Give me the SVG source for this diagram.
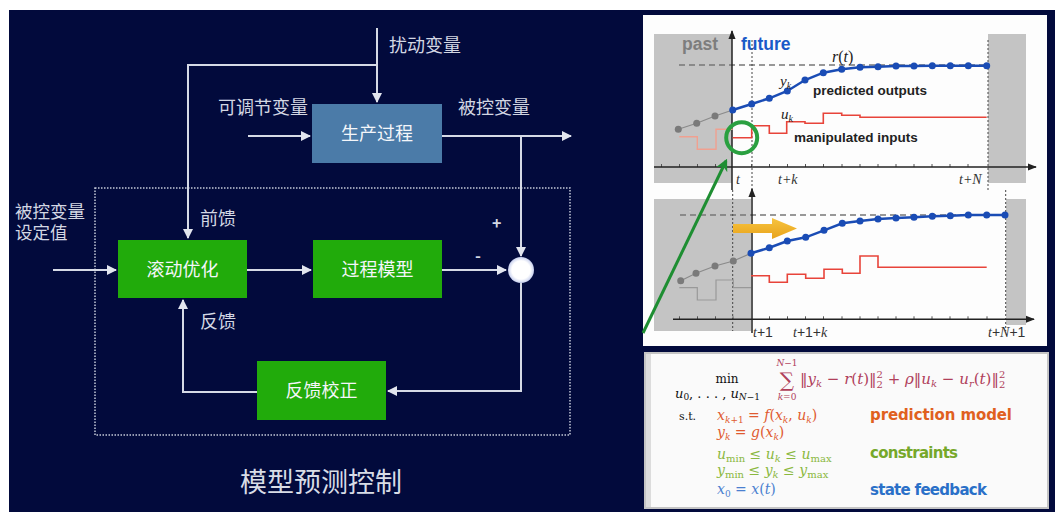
<svg xmlns="http://www.w3.org/2000/svg" width="1055" height="513" viewBox="0 0 1055 513">
<defs>
<style>
.lbl{font-family:"Noto Sans CJK SC","Liberation Sans",sans-serif;font-size:18px;fill:#d3d7e3}
.btx{font-family:"Noto Sans CJK SC","Liberation Sans",sans-serif;font-size:18px;fill:#f4f6fa;text-anchor:middle}
.wire{fill:none;stroke:#d6dae6;stroke-width:2}
.green{fill:#21ab0b}
.ax{fill:none;stroke:#222;stroke-width:1.5}
.tick{fill:none;stroke:#555;stroke-width:1}
.dot{fill:none;stroke:#444;stroke-width:1;stroke-dasharray:2 2}
.ref{fill:none;stroke:#777;stroke-width:1.5;stroke-dasharray:6 4}
.blue{fill:none;stroke:#1a4cb5;stroke-width:2.5}
.bdot{fill:#1a4cb5}
.gline{fill:none;stroke:#8a8a8a;stroke-width:1.2}
.gdot{fill:#7a7a7a}
.red{fill:none;stroke:#e8443a;stroke-width:1.6}
.math{font-family:"Liberation Serif",serif;font-style:italic;fill:#222}
.tk{font-family:"Liberation Serif",serif;font-style:italic;font-size:14px;fill:#333}
.lab{font-family:"Liberation Sans",sans-serif;font-weight:bold;font-size:13.5px;fill:#222}
.f{font-family:"DejaVu Serif",serif;font-size:14px}
.hand{font-family:"DejaVu Sans",sans-serif;font-size:15px;font-weight:bold}
</style>
<marker id="ah" viewBox="0 0 10 10" refX="9" refY="5" markerWidth="5" markerHeight="5" orient="auto-start-reverse" markerUnits="strokeWidth">
<path d="M0,0 L10,5 L0,10 z" fill="#e2e5ee"/>
</marker>
<marker id="axh" viewBox="0 0 10 10" refX="9" refY="5" markerWidth="6" markerHeight="6" orient="auto" markerUnits="strokeWidth">
<path d="M0,1 L10,5 L0,9 z" fill="#222"/>
</marker>
<marker id="gh" viewBox="0 0 10 10" refX="8" refY="5" markerWidth="4" markerHeight="4" orient="auto" markerUnits="strokeWidth">
<path d="M0,0 L10,5 L0,10 L3,5 z" fill="#1e8e32"/>
</marker>
<radialGradient id="glow" cx="0.5" cy="0.5" r="0.5">
<stop offset="0.7" stop-color="#ffffff"/>
<stop offset="1" stop-color="#c8d0ee"/>
</radialGradient>
<linearGradient id="yel" x1="0" y1="0" x2="0" y2="1">
<stop offset="0" stop-color="#f7c440"/>
<stop offset="1" stop-color="#e8a21a"/>
</linearGradient>
</defs>

<rect x="0" y="0" width="1055" height="513" fill="#ffffff"/>
<rect x="9" y="10" width="1046" height="502" fill="#020a3c"/>

<!-- Left diagram -->
<rect x="95" y="188" width="475" height="247" fill="none" stroke="#c4c9d8" stroke-width="1.5" stroke-dasharray="1.5 1.5"/>

<g id="connectors">
<path class="wire" d="M377,28 V102" marker-end="url(#ah)"/>
<path class="wire" d="M377,65 H188 V238" marker-end="url(#ah)"/>
<path class="wire" d="M248,136 H310" marker-end="url(#ah)"/>
<path class="wire" d="M442,136 H571" marker-end="url(#ah)"/>
<path class="wire" d="M521,136 V256" marker-end="url(#ah)"/>
<path class="wire" d="M53,270 H116" marker-end="url(#ah)"/>
<path class="wire" d="M247,270 H311" marker-end="url(#ah)"/>
<path class="wire" d="M442,270 H506" marker-end="url(#ah)"/>
<path class="wire" d="M521,283 V391 H388" marker-end="url(#ah)"/>
<path class="wire" d="M257,392 H183 V300" marker-end="url(#ah)"/>
</g>

<g id="labels">
<text class="lbl" x="389" y="52">扰动变量</text>
<text class="lbl" x="218" y="114">可调节变量</text>
<text class="lbl" x="458" y="114">被控变量</text>
<text class="lbl" x="15" y="218" style="font-size:17.5px;font-family:'Liberation Sans','Noto Sans CJK SC',sans-serif">被控变量<tspan x="15" dy="21">设定值</tspan></text>
<text class="lbl" x="200" y="225">前馈</text>
<text class="lbl" x="200" y="328">反馈</text>
<text class="lbl" x="492" y="229" style="font-size:16px;font-weight:bold">+</text>
<text class="lbl" x="475" y="262" style="font-size:16px;font-weight:bold">-</text>
</g>

<g id="node-process">
<rect x="312" y="104" width="130" height="59" fill="#4b7ba8"/>
<text class="btx" x="377" y="140">生产过程</text>
</g>
<g id="node-opt">
<rect class="green" x="118" y="240" width="129" height="58"/>
<text class="btx" x="182.5" y="275.5">滚动优化</text>
</g>
<g id="node-model">
<rect class="green" x="313" y="240" width="129" height="58"/>
<text class="btx" x="377.5" y="275.5">过程模型</text>
</g>
<g id="node-correct">
<rect class="green" x="257" y="361" width="129" height="59"/>
<text class="btx" x="321.5" y="397">反馈校正</text>
</g>
<g id="node-sum">
<circle cx="521" cy="270" r="13" fill="url(#glow)"/>
</g>

<text x="240" y="492" style="font-family:'Noto Sans CJK SC',sans-serif;font-size:27px;fill:#d8dce6">模型预测控制</text>

<!-- Right: chart panel -->
<rect x="643" y="15" width="404" height="331" fill="#fdfdfd"/>

<!-- top chart -->
<rect x="654" y="34" width="78" height="149" fill="#c4c4c4"/>
<rect x="988" y="34" width="38" height="149" fill="#c4c4c4"/>
<text x="682" y="50" style="font-family:'Liberation Sans',sans-serif;font-weight:bold;font-size:17.5px;fill:#7d7d7d">past</text>
<text x="741" y="50" style="font-family:'Liberation Sans',sans-serif;font-weight:bold;font-size:17.5px;fill:#1a5ac8">future</text>
<path class="ref" d="M679,65 H987"/>
<path class="dot" d="M752,40 V190"/>
<path class="dot" d="M988,40 V190"/>
<path class="tick" d="M661.5,167 v-3 M679.5,167 v-3 M697.5,167 v-3 M715.5,167 v-3 M751.5,167 v-3 M769.5,167 v-3 M787.5,167 v-3 M805.5,167 v-3 M823.5,167 v-3 M842,167 v-3 M860,167 v-3 M878,167 v-3 M896,167 v-3 M914,167 v-3 M932,167 v-3 M950,167 v-3 M968,167 v-3"/>
<path class="ax" d="M654,167 H1036" marker-end="url(#axh)"/>
<path class="ax" d="M732,190 V31" marker-end="url(#axh)"/>
<path d="M679.3,136.7 H697.3 V149.3 H716 V129.3 H732.7" fill="none" stroke="#f0a090" stroke-width="1.4"/>
<path class="red" d="M732.7,137.7 H751.7 V125.7 H769.3 V133.3 H786.7 V121.7 H805 V123.3 H823.3 V113.3 H841.7 V115.3 H860 V117.3 H986.7"/>
<polyline class="gline" points="678.3,129.3 696.7,123.3 715,116 732.7,110"/>
<g class="gdot"><circle cx="678.3" cy="129.3" r="3.5"/><circle cx="696.7" cy="123.3" r="3.5"/><circle cx="715" cy="116" r="3.5"/></g>
<polyline class="blue" points="732.7,110 751.7,104 769.3,98.3 787.3,91 805,80 823.3,72.7 841.7,69.3 860,67.3 878,66.7 896,66 914,66 932.3,65.7 950.3,65.7 968.3,65.7 986.7,65.7"/>
<g class="bdot"><circle cx="732.7" cy="110" r="3.5"/><circle cx="751.7" cy="104" r="3.5"/><circle cx="769.3" cy="98.3" r="3.5"/><circle cx="787.3" cy="91" r="3.5"/><circle cx="805" cy="80" r="3.5"/><circle cx="823.3" cy="72.7" r="3.5"/><circle cx="841.7" cy="69.3" r="3.5"/><circle cx="860" cy="67.3" r="3.5"/><circle cx="878" cy="66.7" r="3.5"/><circle cx="896" cy="66" r="3.5"/><circle cx="914" cy="66" r="3.5"/><circle cx="932.3" cy="65.7" r="3.5"/><circle cx="950.3" cy="65.7" r="3.5"/><circle cx="968.3" cy="65.7" r="3.5"/><circle cx="986.7" cy="65.7" r="3.5"/></g>
<text class="math" x="832" y="62" style="font-size:16px">r<tspan font-style="normal">(</tspan>t<tspan font-style="normal">)</tspan></text>
<text class="math" x="780" y="86" style="font-size:15px">y<tspan font-size="10" dy="3">k</tspan></text>
<text class="math" x="781" y="119" style="font-size:15px">u<tspan font-size="10" dy="3">k</tspan></text>
<text class="lab" x="813" y="95">predicted outputs</text>
<text class="lab" x="794" y="142">manipulated inputs</text>
<text class="tk" x="736" y="184">t</text>
<text class="tk" x="778" y="184">t+k</text>
<text class="tk" x="959" y="184">t+N</text>
<circle cx="741.7" cy="137.7" r="15.5" fill="none" stroke="#2aa040" stroke-width="4"/>

<!-- bottom chart -->
<rect x="654" y="199" width="97" height="132" fill="#c4c4c4"/>
<rect x="1006" y="199" width="20" height="126" fill="#c4c4c4"/>
<path class="ref" d="M680,215 H1005"/>
<path class="dot" d="M732.7,190 V331"/>
<path class="dot" d="M1005.7,190 V331"/>
<path class="tick" d="M679.5,319.3 v-3 M697.5,319.3 v-3 M715.5,319.3 v-3 M733,319.3 v-3 M769.5,319.3 v-3 M787.5,319.3 v-3 M805.5,319.3 v-3 M823.5,319.3 v-3 M842,319.3 v-3 M860,319.3 v-3 M878,319.3 v-3 M896,319.3 v-3 M914,319.3 v-3 M932,319.3 v-3 M950,319.3 v-3 M968,319.3 v-3 M987,319.3 v-3"/>
<path class="ax" d="M673,319.3 H1034" marker-end="url(#axh)"/>
<path class="ax" d="M752,333 V189" marker-end="url(#axh)"/>
<path d="M679.3,287.7 H697.3 V300 H716 V280 H733.3 V287.7 H751" fill="none" stroke="#999" stroke-width="1.2"/>
<path class="red" d="M751,275.7 H769.3 V282.3 H787.3 V274.3 H805.7 V278.3 H824 V269.3 H842.3 V273.3 H860 V256 H878 V267.3 H986.7"/>
<polyline class="gline" points="680.7,280.7 696,273.3 715,266 733.3,261 751,253.3"/>
<g class="gdot"><circle cx="680.7" cy="280.7" r="3.5"/><circle cx="696" cy="273.3" r="3.5"/><circle cx="715" cy="266" r="3.5"/><circle cx="733.3" cy="261" r="3.5"/></g>
<polyline class="blue" points="751,253.3 769.3,247.7 787.3,241 805.7,237.3 824,230.3 842.3,223.3 860,221 878,219 896,218 914,217.3 932.3,216.3 950.3,215.7 968.3,215 986.7,215 1005,215"/>
<g class="bdot"><circle cx="751" cy="253.3" r="3.5"/><circle cx="769.3" cy="247.7" r="3.5"/><circle cx="787.3" cy="241" r="3.5"/><circle cx="805.7" cy="237.3" r="3.5"/><circle cx="824" cy="230.3" r="3.5"/><circle cx="842.3" cy="223.3" r="3.5"/><circle cx="860" cy="221" r="3.5"/><circle cx="878" cy="219" r="3.5"/><circle cx="896" cy="218" r="3.5"/><circle cx="914" cy="217.3" r="3.5"/><circle cx="932.3" cy="216.3" r="3.5"/><circle cx="950.3" cy="215.7" r="3.5"/><circle cx="968.3" cy="215" r="3.5"/><circle cx="986.7" cy="215" r="3.5"/><circle cx="1005" cy="215" r="3.5"/></g>
<polygon points="733,224 772,224 772,218 797,228.5 772,239 772,233 733,233" fill="url(#yel)"/>
<text class="tk" x="753" y="337">t<tspan font-style="normal" font-family="Liberation Sans">+1</tspan></text>
<text class="tk" x="793" y="337">t<tspan font-style="normal" font-family="Liberation Sans">+1+</tspan>k</text>
<text class="tk" x="988" y="337">t<tspan font-style="normal" font-family="Liberation Sans">+</tspan>N<tspan font-style="normal" font-family="Liberation Sans">+1</tspan></text>

<path d="M643,333 L726,161" fill="none" stroke="#1e8e32" stroke-width="3" marker-end="url(#gh)"/>

<!-- Formula panel -->
<rect x="645" y="353" width="403" height="155" fill="#fafafa" stroke="#c4c4c4" stroke-width="2"/>
<rect x="646" y="354" width="5" height="153" fill="#dcdcdc"/>
<g class="f">
<text x="727" y="383" text-anchor="middle" style="font-size:12px;fill:#111">min</text>
<text x="675" y="398" style="font-size:13px;fill:#111;font-style:italic">u<tspan font-size="9" dy="2" font-style="normal">0</tspan><tspan dy="-2" font-style="normal">, . . . , </tspan>u<tspan font-size="9" dy="2">N</tspan><tspan font-size="9" font-style="normal">−1</tspan></text>
<text x="787" y="366" text-anchor="middle" style="font-size:9px;fill:#b0405a;font-style:italic">N<tspan font-style="normal">−1</tspan></text>
<text x="787" y="387" text-anchor="middle" style="font-size:20px;fill:#b0405a">∑</text>
<text x="787" y="400" text-anchor="middle" style="font-size:9px;fill:#b0405a;font-style:italic">k<tspan font-style="normal">=0</tspan></text>
<text x="800" y="384" style="font-size:15px;fill:#b0405a">‖<tspan font-style="italic">y</tspan><tspan font-size="10" dy="3" font-style="italic">k</tspan><tspan dy="-3"> − </tspan><tspan font-style="italic">r</tspan>(<tspan font-style="italic">t</tspan>)‖<tspan font-size="10" dy="-6">2</tspan><tspan font-size="10" dx="-6.4" dy="10">2</tspan><tspan dy="-4"> + </tspan><tspan font-style="italic">ρ</tspan>‖<tspan font-style="italic">u</tspan><tspan font-size="10" dy="3" font-style="italic">k</tspan><tspan dy="-3"> − </tspan><tspan font-style="italic">u</tspan><tspan font-size="10" dy="3" font-style="italic">r</tspan><tspan dy="-3">(</tspan><tspan font-style="italic">t</tspan>)‖<tspan font-size="10" dy="-6">2</tspan><tspan font-size="10" dx="-6.4" dy="10">2</tspan></text>
<text x="679" y="420" style="font-size:11px;fill:#111">s.t.</text>
<text x="717" y="420" style="fill:#e05a30"><tspan font-style="italic">x</tspan><tspan font-size="9" dy="3" font-style="italic">k</tspan><tspan font-size="9">+1</tspan><tspan dy="-3"> = </tspan><tspan font-style="italic">f</tspan>(<tspan font-style="italic">x</tspan><tspan font-size="9" dy="3" font-style="italic">k</tspan><tspan dy="-3">, </tspan><tspan font-style="italic">u</tspan><tspan font-size="9" dy="3" font-style="italic">k</tspan><tspan dy="-3">)</tspan></text>
<text x="717" y="437" style="fill:#e05a30"><tspan font-style="italic">y</tspan><tspan font-size="9" dy="3" font-style="italic">k</tspan><tspan dy="-3"> = </tspan><tspan font-style="italic">g</tspan>(<tspan font-style="italic">x</tspan><tspan font-size="9" dy="3" font-style="italic">k</tspan><tspan dy="-3">)</tspan></text>
<text x="717" y="459" style="fill:#8ab840"><tspan font-style="italic">u</tspan><tspan font-size="10" dy="3">min</tspan><tspan dy="-3"> ≤ </tspan><tspan font-style="italic">u</tspan><tspan font-size="10" dy="3" font-style="italic">k</tspan><tspan dy="-3"> ≤ </tspan><tspan font-style="italic">u</tspan><tspan font-size="10" dy="3">max</tspan></text>
<text x="717" y="475" style="fill:#8ab840"><tspan font-style="italic">y</tspan><tspan font-size="10" dy="3">min</tspan><tspan dy="-3"> ≤ </tspan><tspan font-style="italic">y</tspan><tspan font-size="10" dy="3" font-style="italic">k</tspan><tspan dy="-3"> ≤ </tspan><tspan font-style="italic">y</tspan><tspan font-size="10" dy="3">max</tspan></text>
<text x="717" y="494" style="fill:#4a80d0"><tspan font-style="italic">x</tspan><tspan font-size="9" dy="3">0</tspan><tspan dy="-3"> = </tspan><tspan font-style="italic">x</tspan>(<tspan font-style="italic">t</tspan>)</text>
</g>
<text class="hand" x="870" y="420" fill="#e0601e" textLength="142">prediction model</text>
<text class="hand" x="870" y="458" fill="#76a82a" textLength="88">constraints</text>
<text class="hand" x="870" y="495" fill="#2a70c8" textLength="117">state feedback</text>
</svg>
